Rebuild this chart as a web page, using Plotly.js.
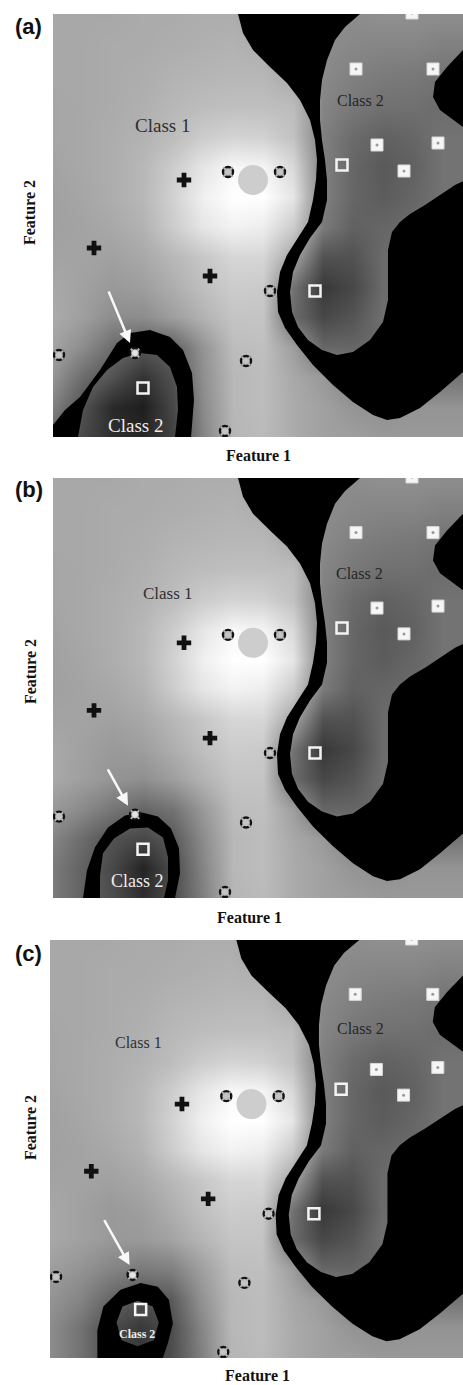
<!DOCTYPE html>
<html><head><meta charset="utf-8">
<script src="https://cdn.plot.ly/plotly-3.0.1.min.js"></script>
<style>html,body{margin:0;padding:0;background:#fff}#chart{width:463px;height:1385px}</style>
</head><body><div id="chart"></div>
<script>
// ---------- shared data (feature units) ----------
const class2FilledX = [359, 303, 380, 324, 385, 351];
const class2FilledY = [424, 368, 368, 292, 294, 266];
const class2HollowX = [289, 262, 90];
const class2HollowY = [272, 146, 49];
const class1CrossX = [131, 41, 157];
const class1CrossY = [257, 189, 161];
const class1CircleX = [175, 227, 217, 6, 193, 172];
const class1CircleY = [265, 265, 146, 82, 76, 6];
const highlightX = [82];
const highlightY = [84];
const testPointX = [200];
const testPointY = [257];

// decision-surface grid nodes
const gridX = [0,30,60,90,120,150,180,210,240,270,300,330,360,390,420];
const gridYTopDown = [420,390,360,330,300,270,240,210,180,150,120,90,60,30,0];

const upperRows = [
 [66,66,66,67,67,68,68,62,60,55,55,56,56,55,55],
 [66,66,67,67,68,69,70,68,62,55,53,52,52,50,50],
 [66,66,67,68,70,71,72,72,66,54,50,48,47,45,45],
 [65,66,67,69,72,74,75,75,74,52,47,44,44,42,42],
 [65,66,68,70,74,80,83,82,76,50,42,38,40,45,45],
 [64,66,68,72,80,90,97,96,85,50,40,35,38,45,45],
 [63,65,68,72,82,94,100,100,90,50,40,36,40,45,45],
 [63,64,66,70,80,90,95,93,80,48,38,40,42,42,42],
 [64,64,63,66,72,78,84,84,65,32,32,42,42,42,42],
 [66,63,60,62,68,75,80,79,45,22,28,42,42,42,42]
];
const lowerRowsA = [
 [67,62,55,55,62,70,77,77,42,28,33,44,42,42,42],
 [64,55,42,35,38,58,74,75,62,40,40,42,42,42,42],
 [58,42,32,20,32,56,72,74,66,60,50,45,45,45,45],
 [50,32,16,12,28,54,72,74,67,63,58,56,58,58,58],
 [40,28,18,15,26,52,71,73,67,63,62,60,60,60,60]
];
const lowerRowsB = [
 [66,62,58,56,62,70,77,77,42,28,33,44,42,42,42],
 [60,54,46,40,45,60,74,75,62,40,40,42,42,42,42],
 [52,42,32,28,35,55,72,74,66,60,50,45,45,45,45],
 [48,38,28,14,30,52,72,74,67,63,58,56,58,58,58],
 [48,38,30,18,30,50,71,73,67,63,62,60,60,60,60]
];
const lowerRowsC = [
 [66,63,60,60,64,71,77,77,42,28,33,44,42,42,42],
 [62,58,52,48,50,62,74,75,62,40,40,42,42,42,42],
 [58,52,40,32,35,57,72,74,66,60,50,45,45,45,45],
 [55,45,30,22,30,52,72,74,67,63,58,56,58,58,58],
 [55,45,30,22,30,50,71,73,67,63,62,60,60,60,60]
];

// black region (upper right), outer edge and inner gray lobe
const bigOuterX = [185,185,190,200,217,234,247,257,262,264,263,260,255,245,234,227,224,225,232,244,260,280,300,320,334,347,367,387,410,427,427];
const bigOuterY = [437,423,404,387,370,354,337,317,297,277,257,237,215,199,182,165,145,125,109,92,72,52,35,22,17,19,29,45,65,77,437];
const bigHoleX = [307,307,292,282,274,269,267,267,269,272,274,274,269,257,247,240,237,239,245,255,269,284,300,317,330,335,335,335,339,347,357,372,387,402,417,417,410,400,387,380,382,394,410,417,417];
const bigHoleY = [437,423,410,397,377,357,337,317,297,277,257,237,215,199,182,165,145,125,110,97,87,82,85,97,115,137,167,187,205,215,223,232,242,252,259,307,310,317,327,340,355,370,387,392,437];

// lower-left class 2 region per panel
const ringAOuterX = [-8,-8,0,12,27,47,64,77,97,117,130,139,141,139,137];
const ringAOuterY = [-13,9,12,27,40,67,94,104,107,100,87,64,37,10,-13];
const ringAHoleX = [25,25,30,40,54,70,87,104,117,124,125,122,122];
const ringAHoleY = [-13,0,27,50,67,79,84,82,70,50,27,0,-13];
const ringBOuterX = [27,30,34,42,55,72,89,105,118,126,127,122,124];
const ringBOuterY = [-12,0,28,51,71,83,86,82,70,50,25,0,-12];
const ringBHoleX = [47,47,47,50,61,77,95,110,115,115,111,111];
const ringBHoleY = [-12,0,23,45,60,70,71,61,41,18,0,-12];
const ringCOuterX = [47,47,53,70,90,107,118,122,117,112,110];
const ringCOuterY = [-12,28,52,69,76,72,59,35,15,0,-12];
const ringCHoleX = [87,102,108,103,87,71,66,72];
const ringCHoleY = [58,52,36,18,12,18,36,52];

// label / arrow anchors per panel
const class1Label = [[109,312],[115,307],[88,319]];
const class2UpperLabel = [[307,337],[306,327],[308,333]];
const class2LowerLabel = [[82,12],[84,17],[86,24]];
const arrowTail = [[55,147],[54,131],[53,141]];
const arrowHead = [[77,94],[75,93],[79,94]];
const panelNames = ['(a)','(b)','(c)'];

// ---------- build ----------
function area(xs, ys){let s=0;for(let i=0;i<xs.length;i++){const j=(i+1)%xs.length;s+=xs[i]*ys[j]-xs[j]*ys[i];}return s/2;}
function withHole(ox, oy, hx, hy){
  let HX=hx.slice(), HY=hy.slice();
  if(Math.sign(area(ox,oy))===Math.sign(area(hx,hy))){HX.reverse();HY.reverse();}
  return {x: ox.concat([ox[0], null], HX, [HX[0]]), y: oy.concat([oy[0], null], HY, [HY[0]])};
}
const gridY = gridYTopDown.slice().reverse();
const serif = 'Liberation Serif, Times New Roman, serif';

const panels = [
  {lower: lowerRowsA, ro: [ringAOuterX, ringAOuterY], rh: [ringAHoleX, ringAHoleY]},
  {lower: lowerRowsB, ro: [ringBOuterX, ringBOuterY], rh: [ringBHoleX, ringBHoleY]},
  {lower: lowerRowsC, ro: [ringCOuterX, ringCOuterY], rh: [ringCHoleX, ringCHoleY]}
];
const domainsX = [[53/463,1],[53/463,1],[50/463,1]];
const domainsY = [[1-437/1385,1-14/1385],[1-898/1385,1-478/1385],[1-1358/1385,1-940/1385]];

const traces = [];
const layout = {width:463, height:1385, margin:{l:0,r:0,t:0,b:0}, paper_bgcolor:'#fff', plot_bgcolor:'#fff', showlegend:false, annotations:[]};

panels.forEach((p, k) => {
  const xa = k===0?'x':'x'+(k+1), ya = k===0?'y':'y'+(k+1);
  const xk = k===0?'xaxis':'xaxis'+(k+1), yk = k===0?'yaxis':'yaxis'+(k+1);
  layout[xk] = {domain: domainsX[k], anchor: ya, range:[0,410], showgrid:false, zeroline:false, showticklabels:false, ticks:'', showline:false, fixedrange:true};
  layout[yk] = {domain: domainsY[k], anchor: xa, range:[0,423], showgrid:false, zeroline:false, showticklabels:false, ticks:'', showline:false, fixedrange:true};
  const rows = upperRows.concat(p.lower).slice().reverse();
  traces.push({type:'heatmap', x: gridX, y: gridY, z: rows, zmin:0, zmax:100, zsmooth:'best',
    colorscale:[[0,'#000'],[1,'#fff']], showscale:false, hoverinfo:'skip', xaxis:xa, yaxis:ya});
  const big = withHole(bigOuterX, bigOuterY, bigHoleX, bigHoleY);
  traces.push({type:'scatter', mode:'lines', x:big.x, y:big.y, fill:'toself', fillcolor:'#000', line:{width:0,color:'rgba(0,0,0,0)'}, hoverinfo:'skip', xaxis:xa, yaxis:ya});
  const ring = withHole(p.ro[0], p.ro[1], p.rh[0], p.rh[1]);
  traces.push({type:'scatter', mode:'lines', x:ring.x, y:ring.y, fill:'toself', fillcolor:'#000', line:{width:0,color:'rgba(0,0,0,0)'}, hoverinfo:'skip', xaxis:xa, yaxis:ya});
  // test point
  traces.push({type:'scatter', mode:'markers', x:testPointX, y:testPointY, marker:{symbol:'circle', size:30, color:'#cdcdcd', line:{width:0}}, hoverinfo:'skip', xaxis:xa, yaxis:ya});
  // class 1 crosses
  traces.push({type:'scatter', mode:'markers', x:class1CrossX, y:class1CrossY, marker:{symbol:'cross', size:12, color:'#111', line:{width:0}}, hoverinfo:'skip', xaxis:xa, yaxis:ya});
  // class 1 circles (dotted ring look)
  const allCX = class1CircleX.concat(highlightX), allCY = class1CircleY.concat(highlightY);
  traces.push({type:'scatter', mode:'markers', x:allCX, y:allCY, marker:{symbol:'circle', size:10, color:'#c4c4c4', line:{width:2.4,color:'#111'}}, hoverinfo:'skip', xaxis:xa, yaxis:ya});
  traces.push({type:'scatter', mode:'markers', x:allCX, y:allCY, marker:{symbol:'x-thin', size:8.5, color:'#b4b4b4', line:{width:2,color:'#b4b4b4'}}, hoverinfo:'skip', xaxis:xa, yaxis:ya});
  traces.push({type:'scatter', mode:'markers', x:class1CircleX, y:class1CircleY, marker:{symbol:'circle', size:5.5, color:'#c4c4c4', line:{width:0}}, hoverinfo:'skip', xaxis:xa, yaxis:ya});
  traces.push({type:'scatter', mode:'markers', x:highlightX, y:highlightY, marker:{symbol:'circle', size:5.5, color:'#e4e4e4', line:{width:0}}, hoverinfo:'skip', xaxis:xa, yaxis:ya});
  // class 2 squares
  traces.push({type:'scatter', mode:'markers', x:class2FilledX, y:class2FilledY, marker:{symbol:'square', size:12, color:'#f6f6f6', line:{width:1,color:'#d8d8d8'}}, hoverinfo:'skip', xaxis:xa, yaxis:ya});
  traces.push({type:'scatter', mode:'markers', x:class2FilledX, y:class2FilledY, marker:{symbol:'circle', size:3, color:'#9a9a9a', line:{width:0}}, hoverinfo:'skip', xaxis:xa, yaxis:ya});
  traces.push({type:'scatter', mode:'markers', x:class2HollowX, y:class2HollowY, marker:{symbol:'square-open', size:11, color:'#f4f4f4', line:{width:2.5,color:'#f4f4f4'}}, hoverinfo:'skip', xaxis:xa, yaxis:ya});

  const c1 = class1Label[k], c2 = class2UpperLabel[k], c3 = class2LowerLabel[k];
  const f1 = [19,17,16][k], f2 = [16,16,16][k], f3 = [19,18,12][k];
  layout.annotations.push({xref:xa, yref:ya, x:c1[0], y:c1[1], text:'Class 1', showarrow:false, font:{family:serif, size:f1, color:'#303030'}});
  layout.annotations.push({xref:xa, yref:ya, x:c2[0], y:c2[1], text:'Class 2', showarrow:false, font:{family:serif, size:f2, color:'#262626'}});
  layout.annotations.push({xref:xa, yref:ya, x:c3[0], y:c3[1], text: k===2?'<b>Class 2</b>':'Class 2', showarrow:false, font:{family:serif, size:f3, color:'#ececec'}});
  layout.annotations.push({xref:xa, yref:ya, axref:xa, ayref:ya, x:arrowHead[k][0], y:arrowHead[k][1], ax:arrowTail[k][0], ay:arrowTail[k][1], text:'', showarrow:true, arrowhead:2, arrowsize:1, arrowwidth:2.5, arrowcolor:'#f8f8f8'});
});

// paper labels
const featX = [258,250,257], featY = [455,917,1375];
const feat2Y = [213,672,1128];
const tagY = [26,489,953];
for(let k=0;k<3;k++){
  layout.annotations.push({xref:'paper', yref:'paper', x:featX[k]/463, y:1-featY[k]/1385, text:'<b>Feature 1</b>', showarrow:false, xanchor:'center', yanchor:'middle', font:{family:serif, size:16, color:'#111'}});
  layout.annotations.push({xref:'paper', yref:'paper', x:30/463, y:1-feat2Y[k]/1385, text:'<b>Feature 2</b>', textangle:-90, showarrow:false, xanchor:'center', yanchor:'middle', font:{family:serif, size:16, color:'#111'}});
  layout.annotations.push({xref:'paper', yref:'paper', x:29/463, y:1-tagY[k]/1385, text:'<b>'+panelNames[k]+'</b>', showarrow:false, xanchor:'center', yanchor:'middle', font:{family:'Liberation Sans, Arial, sans-serif', size:22, color:'#111'}});
}

Plotly.newPlot('chart', traces, layout, {staticPlot:true, displayModeBar:false});
</script></body></html>
